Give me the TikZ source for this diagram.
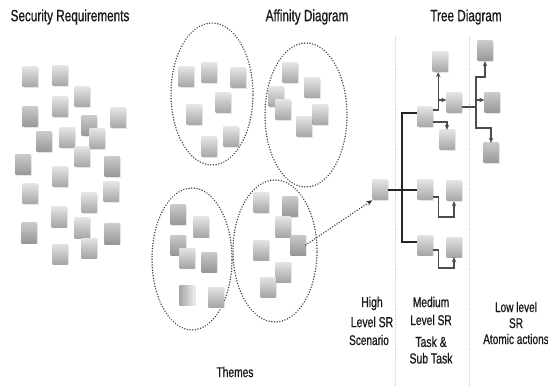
\documentclass[tikz,border=0pt]{standalone}
\usepackage{fontspec}
\setmainfont[FakeStretch=0.72,FakeBold=0.7]{Liberation Sans}
\usetikzlibrary{arrows.meta,shadows,shapes.geometric}
\begin{document}
\begin{tikzpicture}[x=1pt,y=-1pt,
  sq/.style={rectangle,minimum width=15pt,minimum height=20pt,inner sep=0pt,
    top color=gray!22,bottom color=gray!70,
    drop shadow={opacity=0.2,shadow xshift=1.2pt,shadow yshift=-1.2pt}},
  sqd/.style={sq,top color=gray!42,bottom color=gray!82},
  sqh/.style={sq,left color=gray!70,right color=gray!15},
  ell/.style={ellipse,draw=gray!50!black,line width=1.5pt,dash pattern=on 0.1pt off 2.6pt,line cap=round,inner sep=0pt},
  vline/.style={draw=gray!55,line width=1pt,dash pattern=on 0.1pt off 2.4pt,line cap=round},
  conn/.style={draw=black!70,line width=1.3pt},
  trunk/.style={draw=black!85,line width=2pt},
  tip/.style={-{Stealth[length=5pt,width=4.5pt]}},
  title/.style={font=\fontsize{16.3}{18}\selectfont,text=black!90,inner sep=0pt},
  lab/.style={text=black!90,inner sep=0pt,align=center}
]
\useasboundingbox[fill=white] (0,0) rectangle (548,387);

% titles
\node[title] (t1) at (70,17) {Security Requirements};
\node[title] (t2) at (307,17) {Affinity Diagram};
\node[title] (t3) at (466,17) {Tree Diagram};

% left cluster
\foreach \x/\y/\s [count=\i] in {30/77/sq,60/76/sq,82/97/sq,60/107/sq,30/117/sqd,118/118/sq,89/126/sqd,97/139/sq,44/142/sqd,67/138/sq,82/157/sq,23/165/sqd,112/167/sqd,60/177/sq,30/194/sq,111/192/sq,89/203/sq,59/217/sq,82/228/sq,29/233/sqd,112/234/sqd,89/248/sq,60/254/sq}
  \node[\s] (L\i) at (\x,\y) {};

% ellipses
\node[ell,minimum width=82pt,minimum height=142pt] (e1) at (212,94) {};
\node[ell,minimum width=82pt,minimum height=144pt] (e2) at (306,115) {};
\node[ell,minimum width=80pt,minimum height=142pt] (e3) at (192,259) {};
\node[ell,minimum width=84pt,minimum height=142pt] (e4) at (275,251) {};

% ellipse squares
\foreach \x/\y [count=\i] in {186/77,209/73,238/78,223/103,194/115,231/137,209/147}
  \node[sq] (A\i) at (\x,\y) {};
\foreach \x/\y/\s [count=\i] in {290/73/sq,312/88/sq,276/97/sq,283/110/sq,320/115/sq,304/127/sq}
  \node[\s] (B\i) at (\x,\y) {};
\foreach \x/\y/\s [count=\i] in {178/215/sqd,201/227/sq,178/245/sqd,187/258/sq,209/262/sqd,216/297/sq}
  \node[\s] (C\i) at (\x,\y) {};
\node[sqh] (C7) at (187,295) {};
\foreach \x/\y/\s [count=\i] in {261/203/sq,290/207/sqd,283/227/sq,261/250/sq,283/272/sq,268/287/sq}
  \node[\s] (D\i) at (\x,\y) {};
\node[sqd] (q) at (298,245) {};

% dotted vertical separators
\coordinate (v1t) at (395,37); \coordinate (v1b) at (395,387);
\coordinate (v2t) at (469,37); \coordinate (v2b) at (469,387);
\path[vline] (v1t) -- (v1b);
\path[vline] (v2t) -- (v2b);

% tree squares
\node[sq] (h) at (380,190) {};
\node[sq] (m1) at (425,117) {};
\node[sq] (m2) at (425,190) {};
\node[sq] (m3) at (425,245) {};
\node[sq] (a1) at (440,62) {};
\node[sq] (a2) at (454,103) {};
\node[sq] (a3) at (447,140) {};
\node[sq] (b2) at (454,191) {};
\node[sq] (c2) at (454,247) {};
\node[sqd] (l1) at (485,51) {};
\node[sqd] (l2) at (492,103) {};
\node[sqd] (l3) at (491,153) {};

% dotted arrow from affinity to tree
\draw[draw=gray!40!black,line width=1.5pt,dash pattern=on 0.1pt off 2.6pt,line cap=round,-{Stealth[length=6pt,width=5pt,line cap=butt]}] (q.east) -- (h.south west);

% trunk
\draw[trunk] (h.east) -- (m2.west);
\draw[trunk] ([yshift=4pt]m1.west) -| ([xshift=-15.5pt,yshift=3pt]m3.west) -- ([yshift=3pt]m3.west);

% m1 branches
\draw[conn,tip] ([yshift=7pt]m1.east) -- ++(5.5,0) coordinate (j1) -- (j1 |- a1.south);
\coordinate (a2w) at ([yshift=3pt]a2.west);
\draw[conn,tip] (j1 |- a2w) -- (a2w);
\draw[conn,tip] ([yshift=-5pt]m1.east) -| (a3.north);

% a2 branches
\draw[conn] ([yshift=-4pt]a2.east) -- (476,107) coordinate (j2);
\coordinate (l2w) at ([yshift=3pt]l2.west);
\draw[conn,tip] (j2) |- (l2w);
\draw[conn,tip] (j2) -- (476,77) -| (l1.south);
\draw[conn,tip] (j2) -- (476,128) -| (l3.north);

% m2, m3 branches
\draw[conn,tip] ([yshift=-7pt]m2.east) -- ++(5.5,0) -- ++(0,20) -| (b2.south);
\draw[conn,tip] ([yshift=-5pt]m3.east) -- ++(5.5,0) -- ++(0,18) -| (c2.south);

% bottom labels
\node[lab,font=\fontsize{14.5}{20}\selectfont] (hl) at (372,312) {High\\Level SR};
\node[lab,font=\fontsize{14}{16}\selectfont] (hs) at (369,340) {Scenario};
\node[lab,font=\fontsize{14.2}{18}\selectfont] (ml) at (431,311) {Medium\\Level SR};
\node[lab,font=\fontsize{14.5}{16.5}\selectfont] (mt) at (431,350) {Task \&\\Sub Task};
\node[lab,font=\fontsize{14}{16}\selectfont] (ll) at (516,323) {Low level\\SR\\Atomic actions};
\node[lab,font=\fontsize{14.2}{16}\selectfont] (th) at (235,372) {Themes};
\end{tikzpicture}
\end{document}
